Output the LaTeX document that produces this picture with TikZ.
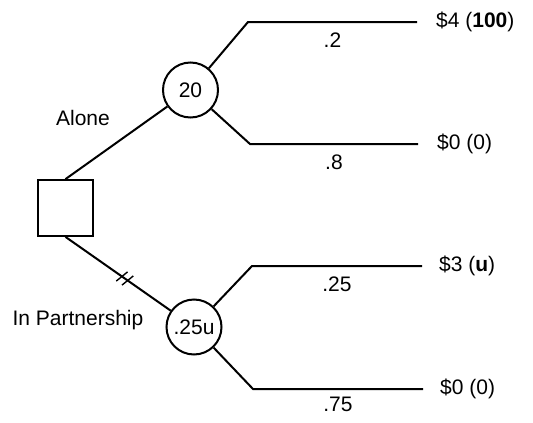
\documentclass[tikz,border=0pt]{standalone}
\usepackage{fontspec}
\setmainfont{Liberation Sans}
\usetikzlibrary{positioning,decorations.markings}
\tikzset{
  main/.style={line width=2pt},
  choice/.style={draw,line width=1.8pt,minimum width=55pt,minimum height=56pt,inner sep=0pt},
  chance/.style={circle,draw,line width=2pt,minimum size=55pt,inner sep=0pt},
  pr/.style={below=7pt},   % probabilities
  pay/.style={inner sep=0pt},
  pruned/.style={main,postaction={decorate},
    decoration={markings,mark=at position 0.56 with {\draw[line width=1.4pt] (-5pt,-7pt) -- (-1pt,7pt) (2pt,-7pt) -- (6pt,7pt);}}},
}
\begin{document}
\begin{tikzpicture}[x=1pt,y=-1pt,font=\fontsize{21}{25}\selectfont]
  \useasboundingbox (0,0) rectangle (533,423);
  \node[choice] (dec) at (65.5,208) {};
  \node[chance] (cA) at (190.5,90) {20};
  \node[chance] (cP) at (194,327) {.25u};
  % alone
  \coordinate (kA1) at (248,22);
  \coordinate (eA1) at (417,22);
  \coordinate (kA2) at (250,144);
  \coordinate (eA2) at (418,144);
  % in partnership
  \coordinate (kP1) at (252,266);
  \coordinate (eP1) at (422,266);
  \coordinate (kP2) at (253,389);
  \coordinate (eP2) at (423,389);
  \draw[main] (dec.north) -- (cA);
  \draw[pruned] (dec.south) -- (cP);
  \draw[main] (cA) -- (kA1) -- (eA1) node[pr,midway] {.2};
  \draw[main] (cA) -- (kA2) -- (eA2) node[pr,midway] {.8};
  \draw[main] (cP) -- (kP1) -- (eP1) node[pr,midway] {.25};
  \draw[main] (cP) -- (kP2) -- (eP2) node[pr,midway,below=4pt] {.75};
  \node[pay,right=19pt of eA1] (pA1) {\$4 (\textbf{100})};
  \node[pay,right=19pt of eA2] (pA2) {\$0 (0)};
  \node[pay,right=17pt of eP1] (pP1) {\$3 (\textbf{u})};
  \node[pay,right=17pt of eP2] (pP2) {\$0 (0)};
  \node (lA) at (83,118) {Alone};
  \node (lP) at (78,320) {In Partnership};
\end{tikzpicture}
\end{document}
